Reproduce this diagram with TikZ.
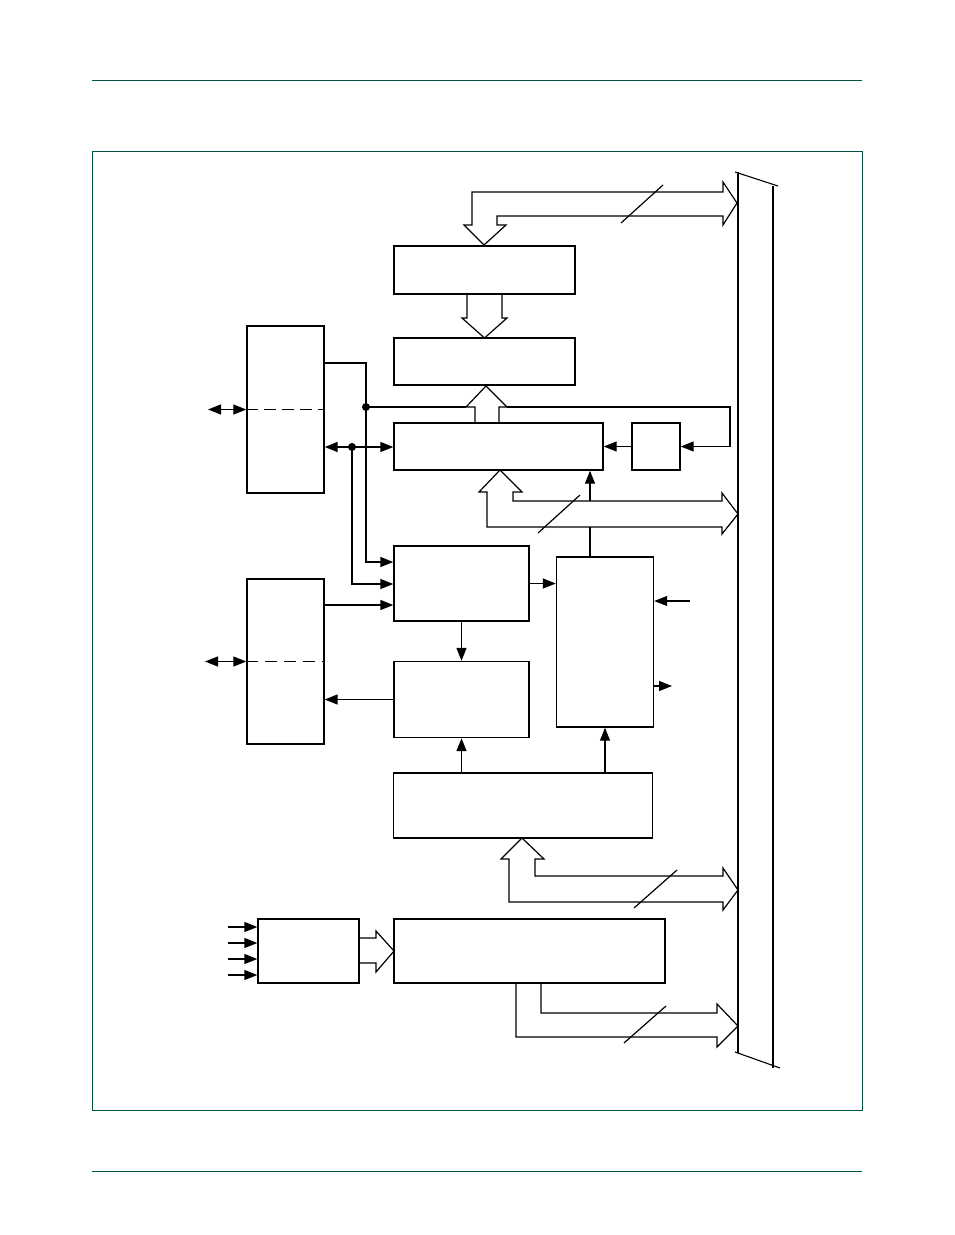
\documentclass[tikz,border=0pt]{standalone}
\usetikzlibrary{arrows.meta}
\definecolor{framegreen}{RGB}{0,84,70}
\tikzset{blk/.style={draw,line width=1.4pt,inner sep=0pt},
  arrow/.style={-{Triangle[length=13pt,width=10pt]},line width=1.5pt},
  thinarrow/.style={-{Triangle[length=13pt,width=10pt]},line width=1.1pt},
  twoway/.style={{Triangle[length=13pt,width=10pt]}-{Triangle[length=13pt,width=10pt]},line width=1.3pt},
  bus/.style={draw,line width=1.2pt},
  dot/.style={circle,fill,inner sep=0pt,minimum size=8pt}}

\begin{document}
\begin{tikzpicture}[x=1pt,y=-1pt]
  \path[use as bounding box] (0,0) rectangle (954,1235);
  \draw[framegreen,line width=1pt] (92,80) -- (862,80);
  \draw[framegreen,line width=1pt] (92,1171) -- (862,1171);
  \draw[framegreen,line width=0.8pt] (92,151) rectangle (862,1110);

  \node[blk,minimum width=181pt,minimum height=48pt] (latch) at (484.5,270) {};
  \node[blk,minimum width=181pt,minimum height=47pt] (decode) at (484.5,361.5) {};
  \node[blk,minimum width=209pt,minimum height=47pt] (ctrl) at (498.5,446.5) {};
  \node[blk,minimum width=48pt,minimum height=47pt] (flag) at (656,446.5) {};
  \node[blk,minimum width=77pt,minimum height=167pt] (portA) at (285.5,409.5) {};
  \node[blk,minimum width=77pt,minimum height=165pt] (portB) at (285.5,661.5) {};
  \node[blk,minimum width=135pt,minimum height=75pt] (sample) at (461.5,583.5) {};
  \node[blk,minimum width=135pt,minimum height=76pt] (drive) at (461.5,699.5) {};
  \node[blk,minimum width=97pt,minimum height=170pt] (logic) at (605,642) {};
  \node[blk,minimum width=259pt,minimum height=65pt] (timer) at (523,805.5) {};
  \node[blk,minimum width=101pt,minimum height=64pt] (mux) at (308.5,951) {};
  \node[blk,minimum width=271pt,minimum height=64pt] (adc) at (529.5,951) {};

  \draw[line width=1.1pt] (735,172) -- (778,186);
  \draw[line width=1.1pt] (738,172) -- (738,1053);
  \draw[line width=1.6pt] (773,186) -- (773,1068);
  \draw[line width=1.1pt] (735,1052) -- (780,1068);

  \draw[bus] (484,245) -- (506,225) -- (497,225) -- (497,216) -- (723,216) -- (723,225)
    -- (737,203) -- (723,182) -- (723,192) -- (472,192) -- (472,225) -- (464,225) -- cycle;
  \draw[bus] (467,294) -- (467,318) -- (462,318) -- (484.5,338) -- (507,318) -- (502,318) -- (502,294);
  \draw[bus] (475,423) -- (475,407) -- (466,407) -- (486,386) -- (507,407) -- (499,407) -- (499,423);
  \draw[bus] (500,470) -- (522,492) -- (513,492) -- (513,501) -- (722,501) -- (722,493)
    -- (738,514) -- (722,534) -- (722,527) -- (487,527) -- (487,492) -- (479,492) -- cycle;
  \draw[bus] (522,838) -- (544,859) -- (535,859) -- (535,876) -- (723,876) -- (723,868)
    -- (738,890) -- (723,910) -- (723,902) -- (509,902) -- (509,859) -- (501,859) -- cycle;
  \draw[bus] (541,983) -- (541,1013) -- (717,1013) -- (717,1004) -- (738,1026) -- (717,1047)
    -- (717,1037) -- (516,1037) -- (516,983);
  \draw[bus] (359,938) -- (376,938) -- (376,931) -- (394,951) -- (376,972) -- (376,963) -- (359,963);

  \draw[line width=1.2pt] (621,223) -- (663,185);
  \draw[line width=1.2pt] (538,533) -- (580,495);
  \draw[line width=1.2pt] (634,908) -- (677,870);
  \draw[line width=1.2pt] (624,1043) -- (666,1006);

  \draw[line width=1.5pt,dash pattern=on 12pt off 6pt] (portA.west) -- (portA.east);
  \draw[line width=1pt,dash pattern=on 12pt off 7pt] (portB.west) -- (portB.east);
  \coordinate (padA) at (208,409.5);
  \coordinate (padB) at (205,661.5);
  \draw[twoway] (padA) -- (portA.west);
  \draw[twoway] (padB) -- (portB.west);

  \coordinate (j1) at (366,407);
  \coordinate (j2) at (352,447);
  \draw[arrow] (portA.east |- 0,363) -| (j1) |- (sample.west |- 0,562);
  \draw[line width=1.1pt] (j1) -- (466,407);
  \draw[thinarrow] (507,407) -- (730,407) |- (flag.east);
  \draw[arrow] (j2) -- (portA.east |- j2);
  \draw[arrow] (j2) -- (ctrl.west |- j2);
  \draw[arrow] (j2) |- (sample.west |- 0,584);
  \node[dot] at (j1) {};
  \node[dot] at (j2) {};
  \draw[thinarrow] (flag.west) -- (ctrl.east);

  \draw[arrow] (portB.east |- 0,605) -- (sample.west |- 0,605);
  \draw[arrow] (sample.south) -- (drive.north);
  \draw[arrow] (drive.west) -- (portB.east |- drive.west);
  \draw[arrow] (sample.east) -- (logic.west |- sample.east);

  \coordinate (tap) at (590,501);
  \draw[line width=1.1pt] (logic.north -| tap) -- (590,527);
  \draw[thinarrow] (tap) -- (ctrl.south -| tap);
  \coordinate (lin) at (690,601);
  \coordinate (lout) at (672,686);
  \draw[thinarrow] (lin) -- (logic.east |- lin);
  \draw[arrow] (logic.east |- lout) -- (lout);

  \draw[arrow] (timer.north -| drive.south) -- (drive.south);
  \draw[thinarrow] (timer.north -| logic.south) -- (logic.south);

  \foreach \y in {927,943,959,975}
    \draw[arrow] (228,\y) -- (mux.west |- 0,\y);
\end{tikzpicture}
\end{document}
